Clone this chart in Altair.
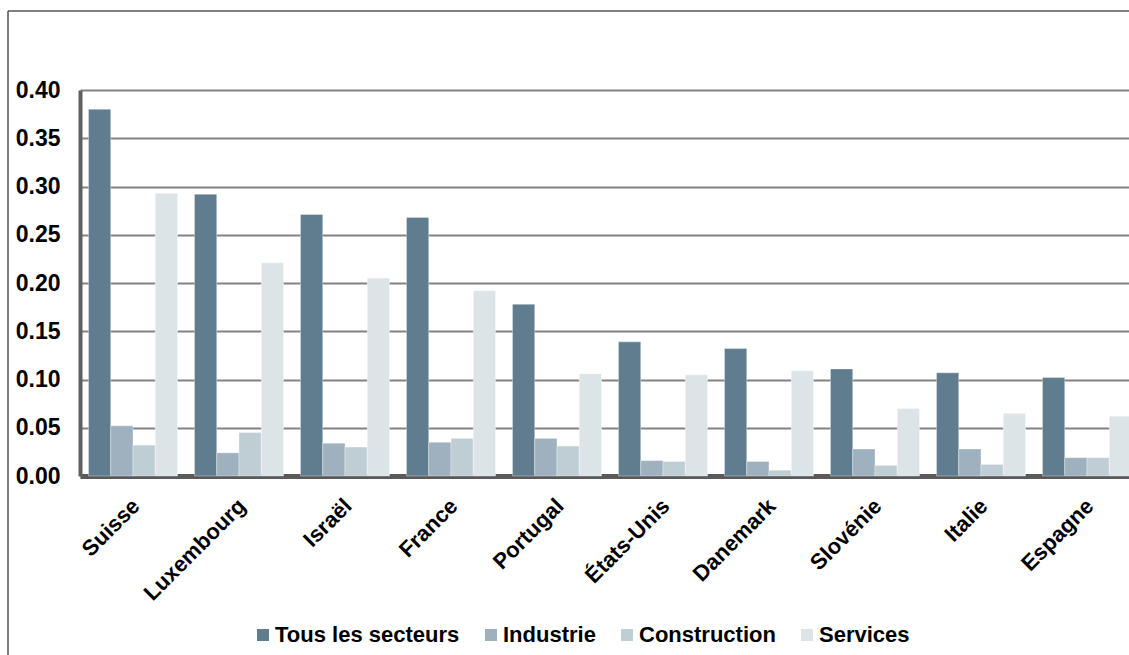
import altair as alt
import pandas as pd

countries = ["Suisse", "Luxembourg", "Israël", "France", "Portugal",
             "États-Unis", "Danemark", "Slovénie", "Italie", "Espagne"]
series = ["Tous les secteurs", "Industrie", "Construction", "Services"]
tous = [0.380, 0.292, 0.271, 0.268, 0.178, 0.139, 0.132, 0.111, 0.107, 0.102]
industrie = [0.052, 0.024, 0.034, 0.035, 0.039, 0.016, 0.015, 0.028, 0.028, 0.019]
construction = [0.032, 0.045, 0.030, 0.039, 0.031, 0.015, 0.006, 0.011, 0.012, 0.019]
services = [0.293, 0.221, 0.205, 0.192, 0.106, 0.105, 0.109, 0.070, 0.065, 0.062]
colors = ["#5f7d8e", "#9fb1be", "#bfcdd4", "#dde4e8"]
y_ticks = [0.0, 0.05, 0.10, 0.15, 0.20, 0.25, 0.30, 0.35, 0.40]

rows = []
for s, vals in zip(series, [tous, industrie, construction, services]):
    for c, v in zip(countries, vals):
        rows.append({"pays": c, "serie": s, "valeur": v})
df = pd.DataFrame(rows)

FONT = "Liberation Sans"

bars = alt.Chart(df).mark_bar(stroke="#ffffff", strokeOpacity=0.35, strokeWidth=1).encode(
    x=alt.X("pays:N", sort=countries,
            scale=alt.Scale(range=[0, 1060], paddingInner=0.16, paddingOuter=0.08),
            axis=alt.Axis(title=None, labelAngle=-45, labelFontSize=22,
                          labelFontWeight="bold", labelFont=FONT, labelColor="#000000",
                          ticks=False, labelPadding=19, labelOffset=-4,
                          domainColor="#5a5a5a", domainWidth=5, labelLimit=300)),
    xOffset=alt.XOffset("serie:N", sort=series,
                        scale=alt.Scale(paddingInner=0, paddingOuter=0)),
    y=alt.Y("valeur:Q", scale=alt.Scale(domain=[0, 0.40], nice=False),
            axis=alt.Axis(title=None, values=y_ticks, format=".2f", labelFontSize=23,
                          labelFontWeight="bold", labelFont=FONT, labelColor="#000000",
                          ticks=False, labelPadding=20, domainColor="#606060",
                          domainWidth=4, gridColor="#838383", gridWidth=2)),
    color=alt.Color("serie:N", sort=series,
                    scale=alt.Scale(domain=series, range=colors),
                    legend=alt.Legend(title=None, orient="none", direction="horizontal",
                                      legendX=172, legendY=534, symbolType="square",
                                      symbolSize=144, symbolStrokeWidth=0,
                                      labelFontSize=22, labelFontWeight="bold",
                                      labelFont=FONT, labelColor="#000000",
                                      labelOffset=1, columnPadding=20, labelLimit=400)),
)

frame_v = alt.Chart().mark_rule(color="#555555", strokeWidth=1.5).encode(
    x=alt.value(-72), y=alt.value(-79), y2=alt.value(600))
frame_h = alt.Chart().mark_rule(color="#555555", strokeWidth=1.5).encode(
    x=alt.value(-72), x2=alt.value(1060), y=alt.value(-79))

chart = alt.layer(bars, frame_v, frame_h).properties(
    width=1049, height=386,
    autosize=alt.AutoSizeParams(type="none"),
    padding={"left": 80, "top": 90, "right": 0, "bottom": 179},
    background="#ffffff",
).configure_view(stroke=None)

chart.save("out.html", embed_options={"renderer": "svg", "actions": False})
